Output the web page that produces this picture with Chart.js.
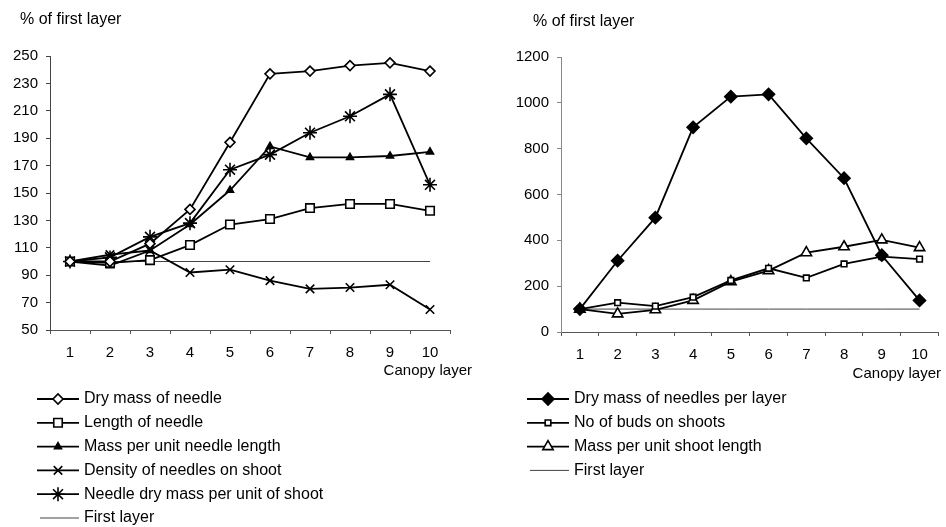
<!DOCTYPE html>
<html>
<head>
<meta charset="utf-8">
<script src="https://cdn.jsdelivr.net/npm/chart.js@4"></script>
<style>
  body { margin: 0; background: #fff; }
  #wrap { position: relative; width: 946px; height: 527px; }
  canvas { position: absolute; top: 0; }
</style>
</head>
<body>
<div id="wrap">
  <canvas id="leftChart" width="476" height="527" style="left:0"></canvas>
  <canvas id="rightChart" width="470" height="527" style="left:476px"></canvas>
</div>
<script>
const layers = ['1', '2', '3', '4', '5', '6', '7', '8', '9', '10'];
const leftYTicks = [50, 70, 90, 110, 130, 150, 170, 190, 210, 230, 250];
const rightYTicks = [0, 200, 400, 600, 800, 1000, 1200];

// left panel
const dryMassNeedle = [100, 100, 113, 138, 187, 237, 239, 243, 245, 239];
const lengthNeedle = [100, 99, 101, 112, 127, 131, 139, 142, 142, 137];
const massPerNeedleLength = [100, 97, 108, 127, 152, 184, 176, 176, 177, 180];
const needleDensity = [100, 105, 108, 92, 94, 86, 80, 81, 83, 65];
const massPerShoot = [100, 103, 118, 128, 167, 178, 194, 206, 222, 156];
const firstLayerLeft = [100, 100, 100, 100, 100, 100, 100, 100, 100, 100];

// right panel
const dryMassPerLayer = [100, 311, 499, 893, 1027, 1037, 845, 671, 335, 138];
const budsOnShoots = [100, 128, 113, 152, 225, 278, 236, 297, 329, 318];
const massPerShootLength = [100, 79, 97, 138, 220, 268, 346, 372, 402, 368];
const firstLayerRight = [100, 100, 100, 100, 100, 100, 100, 100, 100, 100];

const FONT = '"Liberation Sans", Arial, sans-serif';

function series(label, data, style, radius, fill) {
  return {
    label, data,
    borderColor: '#000', borderWidth: 1.8,
    pointStyle: style, pointRadius: radius,
    pointBackgroundColor: fill, pointBorderColor: '#000', pointBorderWidth: 1.6,
    tension: 0
  };
}

function refLine(data) {
  return {
    label: 'First layer', data,
    borderColor: '#444', borderWidth: 1,
    pointRadius: 0, tension: 0
  };
}

const extras = {
  id: 'extras',
  afterDraw(chart, args, opts) {
    const ctx = chart.ctx;
    ctx.save();
    ctx.fillStyle = '#000';
    ctx.textBaseline = 'middle';
    ctx.font = '16px ' + FONT;
    ctx.textAlign = 'left';
    ctx.fillText('% of first layer', opts.titleX, opts.titleY);
    ctx.textAlign = 'right';
    ctx.font = '15px ' + FONT;
    ctx.fillText('Canopy layer', opts.xTitleX, opts.xTitleY);

    ctx.textAlign = 'left';
    ctx.font = '16px ' + FONT;
    chart.data.datasets.forEach((ds, i) => {
      const y = opts.legendY + i * opts.legendGap;
      const x0 = opts.legendX;
      ctx.strokeStyle = ds.borderColor;
      ctx.lineWidth = ds.borderWidth;
      ctx.beginPath();
      ctx.moveTo(x0 + (ds.pointRadius ? 0 : 3), y);
      ctx.lineTo(x0 + 42, y);
      ctx.stroke();
      if (ds.pointRadius) {
        ctx.fillStyle = ds.pointBackgroundColor;
        ctx.strokeStyle = ds.pointBorderColor;
        ctx.lineWidth = ds.pointBorderWidth;
        Chart.helpers.drawPoint(ctx, {
          pointStyle: ds.pointStyle, radius: ds.pointRadius,
          rotation: 0, borderWidth: ds.pointBorderWidth
        }, x0 + 21, y);
      }
      ctx.fillStyle = '#000';
      ctx.fillText(ds.label, x0 + 47, y);
    });
    ctx.restore();
  }
};

function makeChart(id, datasets, yTicks, geo) {
  new Chart(document.getElementById(id), {
    type: 'line',
    data: { labels: layers, datasets },
    options: {
      responsive: false,
      animation: false,
      layout: { padding: geo.padding },
      plugins: { legend: { display: false }, tooltip: { enabled: false }, extras: geo.extras },
      scales: {
        x: {
          offset: true,
          grid: { offset: true, drawOnChartArea: false, tickLength: 4, color: '#555' },
          border: { color: '#555', width: 1 },
          ticks: { color: '#000', font: { size: 15, family: FONT }, padding: 10, maxRotation: 0 },
          afterFit(s) { s.height = 40; }
        },
        y: {
          min: yTicks[0], max: yTicks[yTicks.length - 1],
          afterBuildTicks(s) { s.ticks = yTicks.map(v => ({ value: v })); },
          grid: { drawOnChartArea: false, tickLength: 4, color: geo.axisColor },
          border: { color: geo.axisColor, width: 1 },
          ticks: { color: '#000', font: { size: 15, family: FONT }, padding: 8, callback: v => String(v) },
          afterFit(s) { s.width = geo.yWidth; }
        }
      }
    },
    plugins: [extras]
  });
}

makeChart('leftChart', [
  series('Dry mass of needle', dryMassNeedle, 'rectRot', 5, '#fff'),
  series('Length of needle', lengthNeedle, 'rect', 6, '#fff'),
  series('Mass per unit needle length', massPerNeedleLength, 'triangle', 4, '#000'),
  series('Density of needles on shoot', needleDensity, 'crossRot', 6, '#000'),
  series('Needle dry mass per unit of shoot', massPerShoot, 'star', 7, '#000'),
  refLine(firstLayerLeft)
], leftYTicks, {
  padding: { left: 0, right: 26, top: 56, bottom: 157 },
  yWidth: 50,
  axisColor: '#444',
  extras: { titleX: 20, titleY: 20, xTitleX: 472, xTitleY: 371, legendX: 37, legendY: 399, legendGap: 23.8 }
});

makeChart('rightChart', [
  series('Dry mass of needles per layer', dryMassPerLayer, 'rectRot', 6, '#000'),
  series('No of buds on shoots', budsOnShoots, 'rect', 4, '#fff'),
  series('Mass per unit shoot length', massPerShootLength, 'triangle', 6, '#fff'),
  refLine(firstLayerRight)
], rightYTicks, {
  padding: { left: 0, right: 0, top: 57, bottom: 155 },
  yWidth: 85,
  axisColor: '#888',
  extras: { titleX: 57, titleY: 22, xTitleX: 465, xTitleY: 374, legendX: 51, legendY: 399, legendGap: 23.8 }
});
</script>
</body>
</html>
